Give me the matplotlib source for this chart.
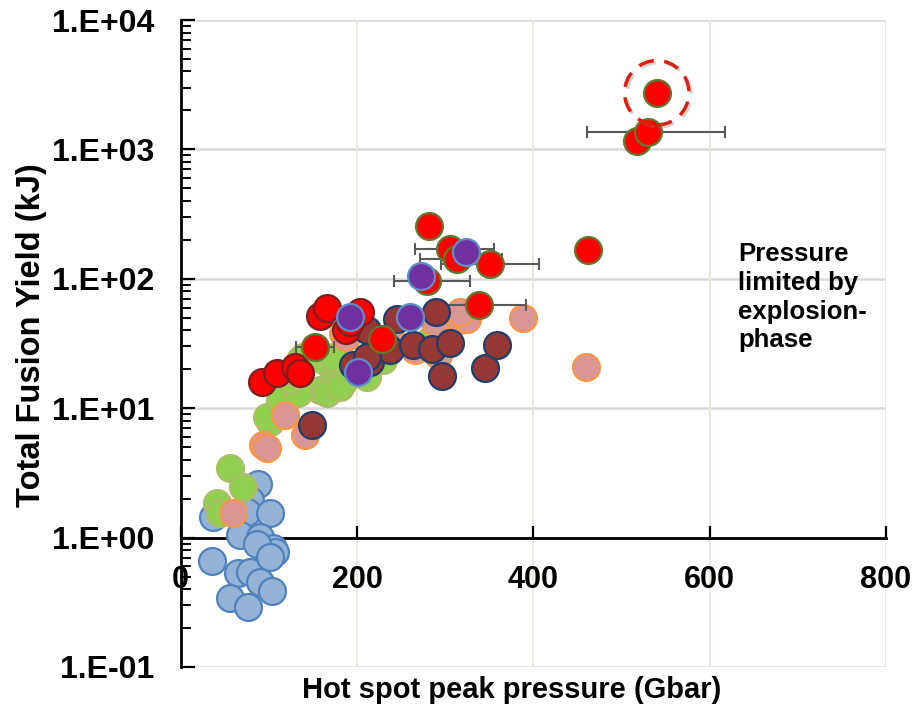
import matplotlib
matplotlib.use("Agg")
import matplotlib.pyplot as plt
import matplotlib.patheffects as pe
import numpy as np

plt.rcParams['font.family'] = ['Liberation Sans', 'DejaVu Sans']
plt.rcParams['font.weight'] = 'bold'

# ---- data: hot spot peak pressure (Gbar) vs total fusion yield (kJ) ----
blue_p = [37, 88, 78.6, 74.9, 101.3, 67.3, 90, 105, 107, 35.2, 65.4, 78.6, 90, 103, 55.9, 76.7, 86.2, 101.3]
blue_y = [1.45, 2.59, 1.95, 1.58, 1.54, 1.05, 1.01, 0.83, 0.78, 0.66, 0.53, 0.54, 0.45, 0.39, 0.34, 0.29, 0.90, 0.71]

green_p = [40.8, 44.6, 55.9, 71, 101.3, 112.6, 97.6, 112.6, 131.6, 158, 173, 184.4, 152.4, 211, 229.8,
           135.3, 133, 165.6, 180.7, 161.8, 124, 131.6, 139, 173, 282.8]
green_y = [1.84, 1.54, 3.42, 2.47, 7.8, 9.95, 8.6, 11.5, 14.6, 13.8, 19.7, 16, 24.9, 17.5, 23.5,
           23.5, 13.1, 13.1, 14.6, 23.5, 16.5, 18.5, 24.9, 24.9, 33.5]

pink_p = [59.7, 93.7, 97.6, 118, 141, 184, 188, 237, 266, 292, 288.5, 317, 324.4, 316.8, 388.7, 459.8]
pink_y = [1.54, 5.2, 4.9, 8.8, 6.2, 38, 35.5, 35.5, 28, 26, 46, 48, 49.3, 55.4, 50, 20.8]

maroon_p = [148.6, 196, 211, 214.8, 211, 233.7, 237.4, 245, 263.9, 284.7, 289.5, 296, 305.5, 345.2, 359.2, 211]
maroon_y = [7.4, 21.5, 23.5, 22.8, 40, 29.7, 28.4, 49.3, 30.6, 28.9, 55.5, 17.7, 31.9, 20.5, 31, 24.9]

red_p = [92, 109.6, 129.7, 135.3, 158, 165.6, 203.4, 188, 192]
red_y = [16, 18.6, 20.8, 18.7, 52, 59, 55.4, 40, 46]

redhi_p = [152.4, 228, 282, 306, 313, 350.9, 279, 338, 462, 518, 530.5, 540]
redhi_y = [29.7, 34.5, 254, 171, 143, 131, 97, 63, 166, 1153, 1361, 2740]
redhi_err_lo = [22, 0, 0, 40, 41.5, 56, 37, 54, 0, 0, 69.5, 0]
redhi_err_hi = [22, 0, 0, 49, 51, 56, 49, 54, 0, 0, 86.5, 0]

purple_p = [192, 201, 260, 272, 323.6]
purple_y = [50.7, 19.2, 50.7, 106, 161]

# highlighted shot
best_p, best_y = 540, 2740

xticks = [0, 200, 400, 600, 800]
yticks = [0.1, 1, 10, 100, 1000, 10000]
ytick_labels = ['1.E-01', '1.E+00', '1.E+01', '1.E+02', '1.E+03', '1.E+04']

# ---- figure ----
W, H = 914, 709
fig = plt.figure(figsize=(W / 100, H / 100), dpi=100)
ax_l, ax_r, ax_t, ax_b = 180.7, 886, 20, 667
ax = fig.add_axes([ax_l / W, 1 - ax_b / H, (ax_r - ax_l) / W, (ax_b - ax_t) / H])

ax.set_yscale('log')
ax.set_xlim(0, 800)
ax.set_ylim(0.1, 10000)

# grid
for yv in yticks:
    ax.axhline(yv, color='#d9d9d9', lw=1.8, zorder=0)
for xv in xticks[1:]:
    ax.axvline(xv, color='#ebe8df', lw=1.4, zorder=0)

ms = 375
lw = 1.6
ax.scatter(blue_p, blue_y, s=ms, c='#95B3D7', edgecolors='#4F81BD', linewidths=lw, zorder=3)
ax.scatter(green_p, green_y, s=ms, c='#92D050', edgecolors='#AEBB68', linewidths=lw, zorder=4)
ax.scatter(pink_p, pink_y, s=ms, c='#D99694', edgecolors='#F79646', linewidths=lw, zorder=5)
ax.scatter(maroon_p, maroon_y, s=ms, c='#953735', edgecolors='#1F3F6B', linewidths=lw, zorder=6)

# horizontal error bars (behind the markers)
err_idx = [i for i in range(len(redhi_p)) if redhi_err_lo[i] > 0]
ax.errorbar([redhi_p[i] for i in err_idx], [redhi_y[i] for i in err_idx],
            xerr=[[redhi_err_lo[i] for i in err_idx], [redhi_err_hi[i] for i in err_idx]],
            fmt='none', ecolor='#595959', elinewidth=1.5, capsize=4.5, capthick=1.5, zorder=5.5)

ax.scatter(red_p, red_y, s=ms, c='#FF0000', edgecolors='#7A2020', linewidths=lw, zorder=7)
ax.scatter(redhi_p, redhi_y, s=ms, c='#FF0000', edgecolors='#5E7A2E', linewidths=lw, zorder=7)
ax.scatter(purple_p, purple_y, s=ms, c='#7030A0', edgecolors='#5B8FCB', linewidths=lw, zorder=8)

# dashed ring around the best shot
ring = ax.scatter([best_p], [best_y], s=2150, facecolors='none', edgecolors='#E0200F',
                  linewidths=2.5, linestyles=(0, (4.5, 3)), zorder=9)
ring.set_path_effects([pe.SimpleLineShadow(offset=(1.5, -1.5), shadow_color='gray', alpha=0.35),
                       pe.Normal()])

# axes styling
for s in ['top', 'right']:
    ax.spines[s].set_visible(False)
ax.spines['left'].set_linewidth(2)
ax.spines['bottom'].set_linewidth(2)
ax.spines['bottom'].set_position(('data', 1))

ax.set_xticks(xticks)
ax.set_xticklabels([str(v) for v in xticks])
ax.set_yticks(yticks)
ax.set_yticklabels(ytick_labels)
ax.yaxis.set_minor_locator(matplotlib.ticker.LogLocator(base=10, subs=np.arange(2, 10)))
ax.yaxis.set_minor_formatter(matplotlib.ticker.NullFormatter())

ax.tick_params(axis='x', direction='in', length=9, width=1.6, pad=20, labelsize=22)
ax.tick_params(axis='y', which='major', direction='in', length=10, width=1.6, pad=19, labelsize=23)
ax.tick_params(axis='y', which='minor', direction='in', length=7, width=1.4)
for t in ax.get_xticklabels() + ax.get_yticklabels():
    t.set_fontweight('bold')

fig.text(512 / W, 1 - 690 / H, 'Hot spot peak pressure (Gbar)', ha='center', va='center',
         fontsize=21, fontweight='bold')
fig.text(32 / W, 1 - 335 / H, 'Total Fusion Yield (kJ)', ha='center', va='center',
         rotation=90, fontsize=23.5, fontweight='bold')
fig.text(738 / W, 1 - 242 / H, 'Pressure\nlimited by\nexplosion-\nphase', ha='left', va='top',
         fontsize=18.5, fontweight='bold', linespacing=1.25)

fig.savefig('out.png', dpi=100)
